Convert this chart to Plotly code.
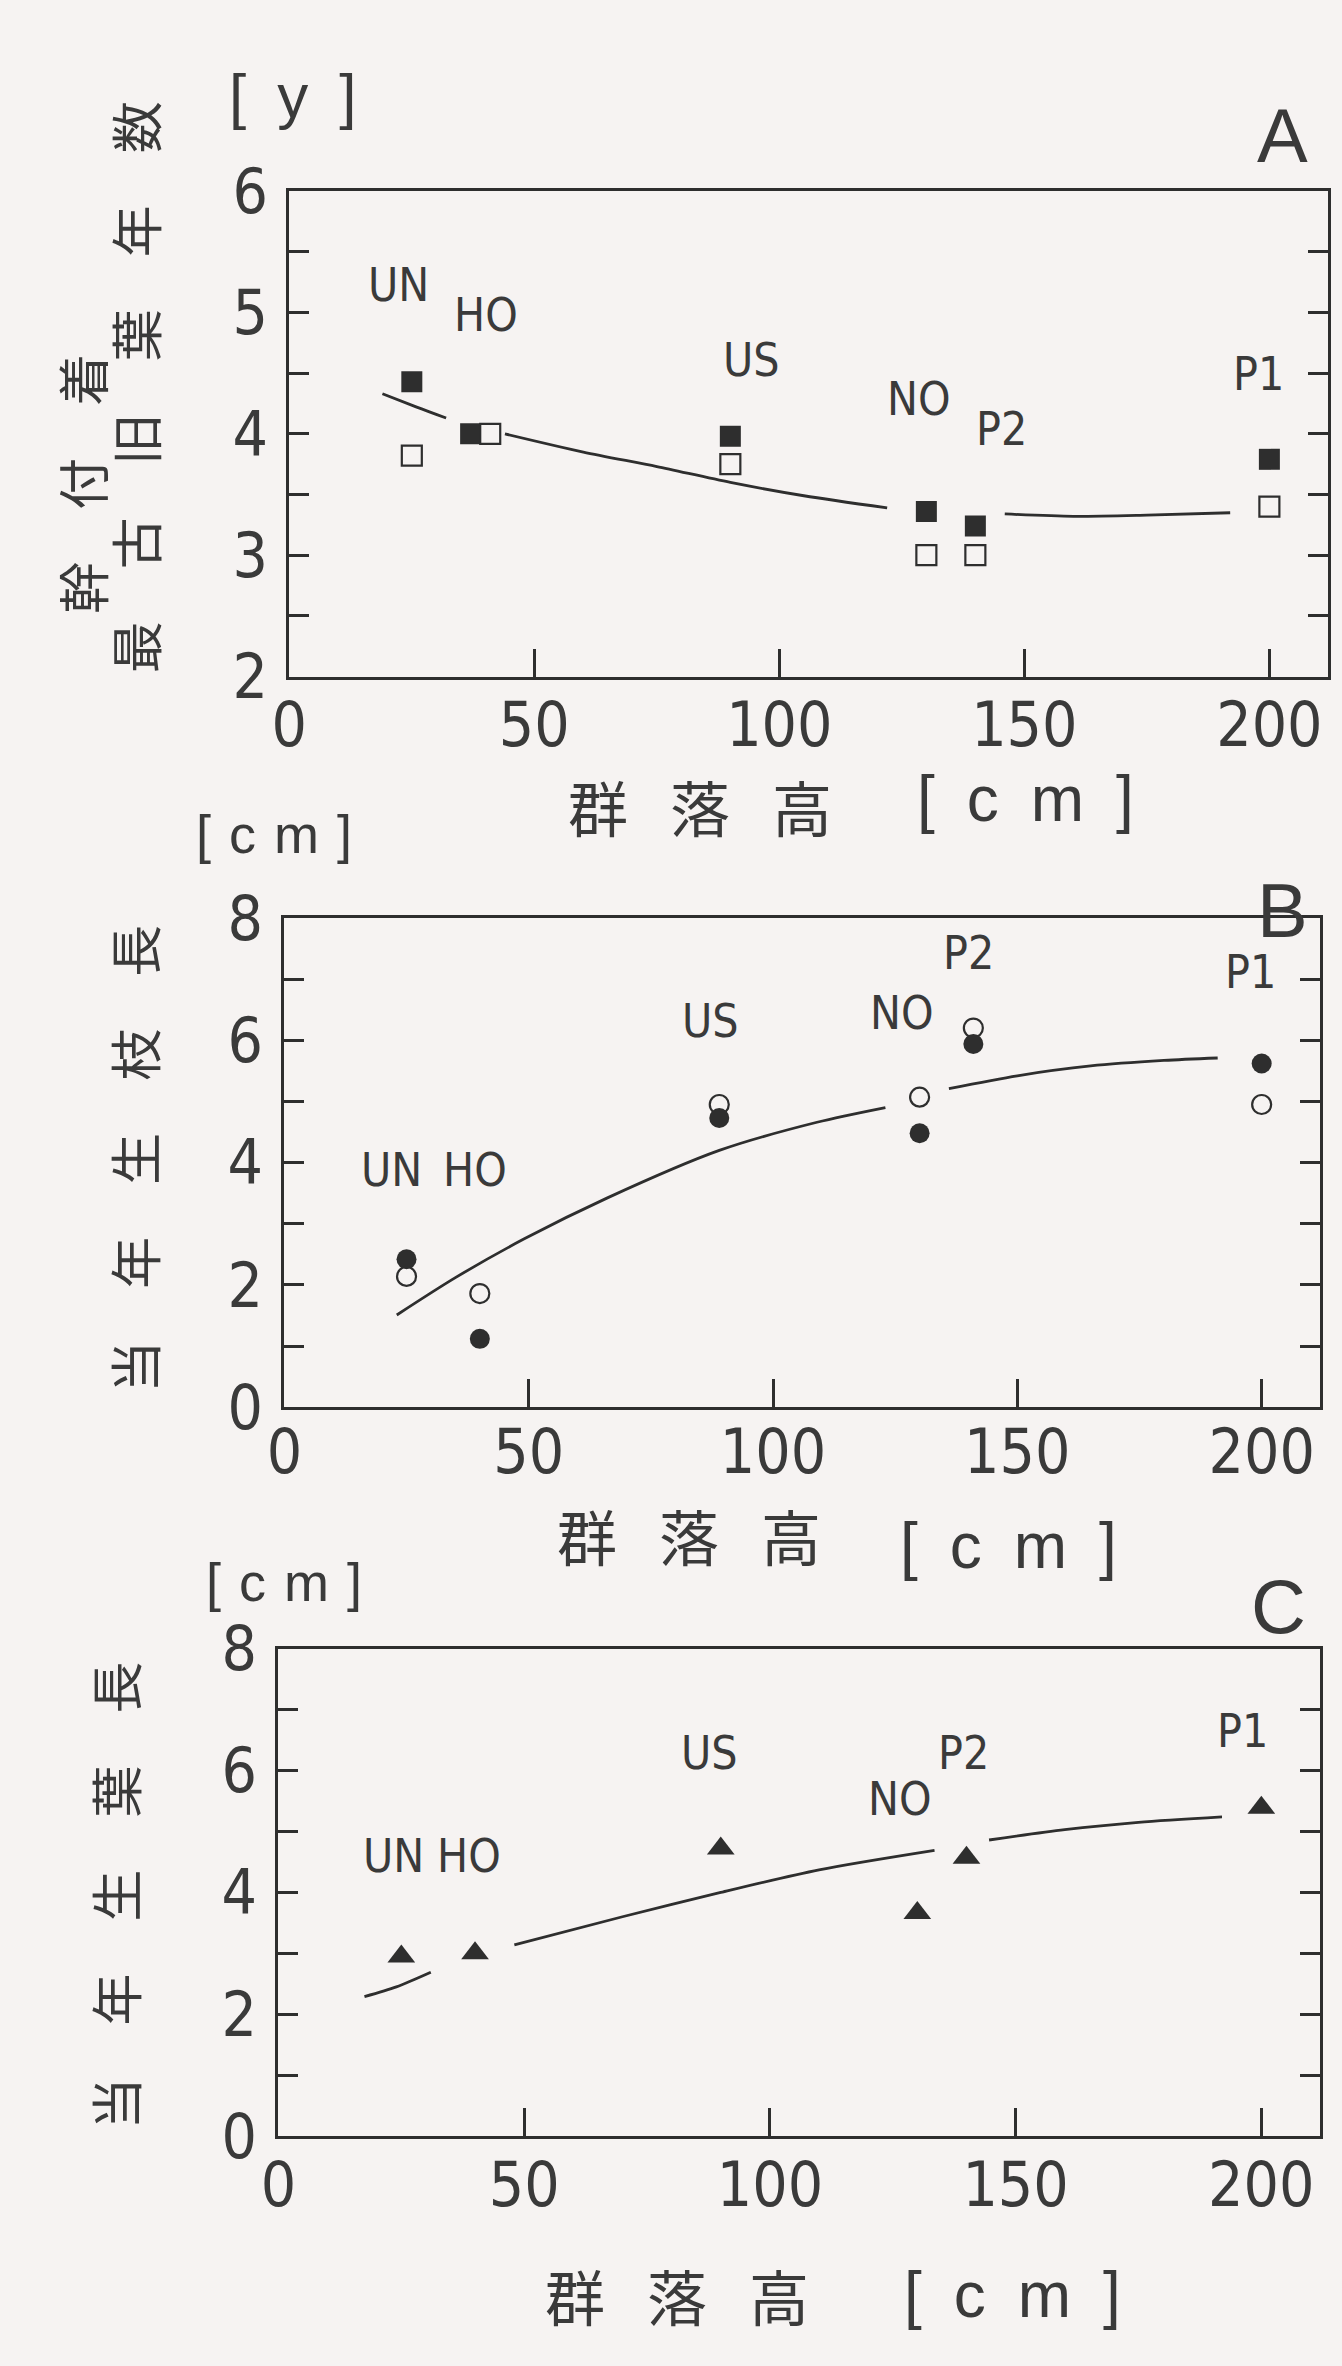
import plotly.graph_objects as go

# ---- data -------------------------------------------------------------
sites = ["UN", "HO", "US", "NO", "P2", "P1"]

# A: oldest retained leaf age on stem [y]
a_filled_x = [25, 37, 90, 130, 140, 200]
a_filled_y = [4.43, 4.0, 3.98, 3.36, 3.24, 3.79]
a_open_x = [25, 41, 90, 130, 140, 200]
a_open_y = [3.82, 4.0, 3.75, 3.0, 3.0, 3.4]
a_curve_x = [19, 26, 32, None, 44, 60, 75, 90, 105, 122, None, 146, 160, 175, 192]
a_curve_y = [4.33, 4.22, 4.13, None, 4.0, 3.85, 3.73, 3.6, 3.49, 3.39, None, 3.34, 3.32, 3.33, 3.35]
a_label_x = [22.2, 40.1, 94.4, 128.5, 145.4, 197.8]
a_label_y = [5.23, 4.98, 4.61, 4.29, 4.04, 4.49]

# B: current-year shoot length [cm]
b_filled_x = [25, 40, 89, 130, 141, 200]
b_filled_y = [2.42, 1.12, 4.73, 4.48, 5.94, 5.62]
b_open_x = [25, 40, 89, 130, 141, 200]
b_open_y = [2.14, 1.86, 4.95, 5.07, 6.2, 4.95]
b_curve_x = [23, 35, 49, 66, 89, 109, 123, None, 136, 150, 165, 180, 191]
b_curve_y = [1.51, 2.12, 2.75, 3.42, 4.2, 4.66, 4.9, None, 5.21, 5.42, 5.58, 5.67, 5.71]
b_label_x = [21.9, 39.0, 87.2, 126.4, 140.1, 197.8]
b_label_y = [3.88, 3.88, 6.32, 6.45, 7.43, 7.12]

# C: current-year leaf length [cm]
c_x = [25, 40, 90, 130, 140, 200]
c_y = [2.95, 3.0, 4.72, 3.66, 4.57, 5.39]
c_curve_x = [17.5, 24, 31, None, 48, 70, 90, 110, 133.5, None, 144.6, 160, 175, 192]
c_curve_y = [2.29, 2.45, 2.69, None, 3.14, 3.6, 4.0, 4.37, 4.69, None, 4.86, 5.03, 5.15, 5.24]
c_label_x = [23.5, 38.7, 87.7, 126.5, 139.4, 196.2]
c_label_y = [4.59, 4.59, 6.29, 5.54, 6.29, 6.65]

x_ticks = [0, 50, 100, 150, 200]

# ---- styling ----------------------------------------------------------
W, H = 1342, 2366
BG = "#f6f3f2"
INK = "#2e2e2e"
TXT = "#3a3a3a"
NUM_FONT = "Liberation Sans Narrow, DejaVu Sans Condensed, Liberation Sans, sans-serif"
LAT_FONT = "Liberation Sans, sans-serif"
CJK_FONT = "Noto Sans CJK JP, Noto Sans CJK SC, sans-serif"


def px(x):
    return x / W


def py(y):
    return 1 - y / H


fig = go.Figure()

panels = [
    # (xaxis id, yaxis id, x domain px, y domain px, y range, major, minor, x label standoff)
    ("x", "y", (275, 1328), (160, 661), [2, 6], 1, 0.5, -8),
    ("x2", "y2", (270, 1320), (910, 1415), [0, 8], 2, 1, -12),
    ("x3", "y3", (264, 1320), (1664, 2167), [0, 8], 2, 1, -8),
]

layout_axes = {}
for i, (xa, ya, (l, r), (t, b), yr, major, minor, xstand) in enumerate(panels):
    suffix = "" if i == 0 else str(i + 1)
    layout_axes["xaxis" + suffix] = dict(
        domain=[px(l), px(r)], range=[0, 212], anchor=ya,
        tickvals=x_ticks, ticks="inside", ticklen=28, tickwidth=2.5, tickcolor=INK,
        showline=True, linewidth=3, linecolor=INK, mirror=True,
        showgrid=False, zeroline=False,
        tickfont=dict(family=NUM_FONT, size=62, color=TXT),
        ticklabelstandoff=xstand,
    )
    layout_axes["yaxis" + suffix] = dict(
        domain=[py(b), py(t)], range=yr, anchor=xa,
        dtick=major, tick0=yr[0], ticks="inside", ticklen=20, tickwidth=2.5, tickcolor=INK,
        minor=dict(dtick=minor, ticks="inside", ticklen=20, tickwidth=2.5, tickcolor=INK),
        showline=True, linewidth=3, linecolor=INK, mirror="ticks",
        showgrid=False, zeroline=False,
        tickfont=dict(family=NUM_FONT, size=62, color=TXT),
        ticklabelstandoff=6,
    )

line_style = dict(color=INK, width=2.8, shape="spline", smoothing=0.8)

# Panel A
fig.add_trace(go.Scatter(x=a_curve_x, y=a_curve_y, mode="lines", line=line_style,
                         connectgaps=False, xaxis="x", yaxis="y", hoverinfo="skip"))
fig.add_trace(go.Scatter(x=a_filled_x, y=a_filled_y, mode="markers",
                         marker=dict(symbol="square", size=21, color=INK, line=dict(width=0)),
                         xaxis="x", yaxis="y"))
fig.add_trace(go.Scatter(x=a_open_x, y=a_open_y, mode="markers",
                         marker=dict(symbol="square", size=20, color=BG, line=dict(width=2.2, color=INK)),
                         xaxis="x", yaxis="y"))

# Panel B
fig.add_trace(go.Scatter(x=b_curve_x, y=b_curve_y, mode="lines", line=line_style,
                         connectgaps=False, xaxis="x2", yaxis="y2", hoverinfo="skip"))
fig.add_trace(go.Scatter(x=b_open_x, y=b_open_y, mode="markers",
                         marker=dict(symbol="circle", size=19, color=BG, line=dict(width=2.2, color=INK)),
                         xaxis="x2", yaxis="y2"))
fig.add_trace(go.Scatter(x=b_filled_x, y=b_filled_y, mode="markers",
                         marker=dict(symbol="circle", size=20, color=INK, line=dict(width=0)),
                         xaxis="x2", yaxis="y2"))

# Panel C
fig.add_trace(go.Scatter(x=c_curve_x, y=c_curve_y, mode="lines", line=line_style,
                         connectgaps=False, xaxis="x3", yaxis="y3", hoverinfo="skip"))
fig.add_trace(go.Scatter(x=c_x, y=c_y, mode="markers",
                         marker=dict(symbol="triangle-up", size=24, color=INK, line=dict(width=0)),
                         xaxis="x3", yaxis="y3"))

annotations = []

# site labels inside each panel
for (lx, ly, xr, yr_) in [(a_label_x, a_label_y, "x", "y"),
                          (b_label_x, b_label_y, "x2", "y2"),
                          (c_label_x, c_label_y, "x3", "y3")]:
    for name, x, y in zip(sites, lx, ly):
        annotations.append(dict(x=x, y=y, xref=xr, yref=yr_, text=name, showarrow=False,
                                font=dict(family=NUM_FONT, size=46, color=TXT),
                                xanchor="center", yanchor="middle"))

# panel letters
for letter, (cx, cy) in zip("ABC", [(1282, 103), (1282, 902), (1278, 1620)]):
    annotations.append(dict(x=px(cx), y=py(cy), xref="paper", yref="paper", text=letter,
                            showarrow=False, font=dict(family=LAT_FONT, size=76, color=TXT),
                            xanchor="center", yanchor="middle"))

# unit labels above the y axes
SP3 = "\u2004"
for txt, size, (cx, cy) in [("[\u2002y\u2002]", 62, (278, 61)),
                            ("[" + SP3 + "c" + SP3 + "m" + SP3 + "]", 54, (259, 823)),
                            ("[" + SP3 + "c" + SP3 + "m" + SP3 + "]", 54, (270, 1595))]:
    annotations.append(dict(x=px(cx), y=py(cy), xref="paper", yref="paper", text=txt,
                            showarrow=False, font=dict(family=LAT_FONT, size=size, color=TXT),
                            xanchor="center", yanchor="middle"))

# x axis titles
GAP = "\u2002\u2009"
xtitle = GAP.join("群落高")
for (gx, gy), (cx, cy) in [((691, 794), (1021, 787)),
                           ((680, 1546), (1004, 1558)),
                           ((668, 2330), (1008, 2331))]:
    annotations.append(dict(x=px(gx), y=py(gy), xref="paper", yref="paper", text=xtitle,
                            showarrow=False, font=dict(family=CJK_FONT, size=60, color=TXT),
                            xanchor="center", yanchor="middle"))
    annotations.append(dict(x=px(cx), y=py(cy), xref="paper", yref="paper",
                            text="[\u2002c\u2002m\u2002]", showarrow=False,
                            font=dict(family=LAT_FONT, size=64, color=TXT),
                            xanchor="center", yanchor="middle"))

# y axis titles (vertical)
EM = "\u2003"
for txt, (cx, cy) in [("幹付着", (65, 462)),
                      ("最古旧葉年数", (118, 362)),
                      ("当年生枝長", (117, 1158)),
                      ("当年生葉長", (98, 1919))]:
    annotations.append(dict(x=px(cx), y=py(cy), xref="paper", yref="paper", text=EM.join(txt),
                            textangle=-90, showarrow=False,
                            font=dict(family=CJK_FONT, size=52, color=TXT),
                            xanchor="center", yanchor="middle"))

fig.update_layout(
    width=W, height=H,
    margin=dict(l=0, r=0, t=0, b=0),
    paper_bgcolor=BG, plot_bgcolor=BG,
    showlegend=False,
    annotations=annotations,
    **layout_axes,
)

fig.write_html("out.html", include_plotlyjs=True, config={"displayModeBar": False})
